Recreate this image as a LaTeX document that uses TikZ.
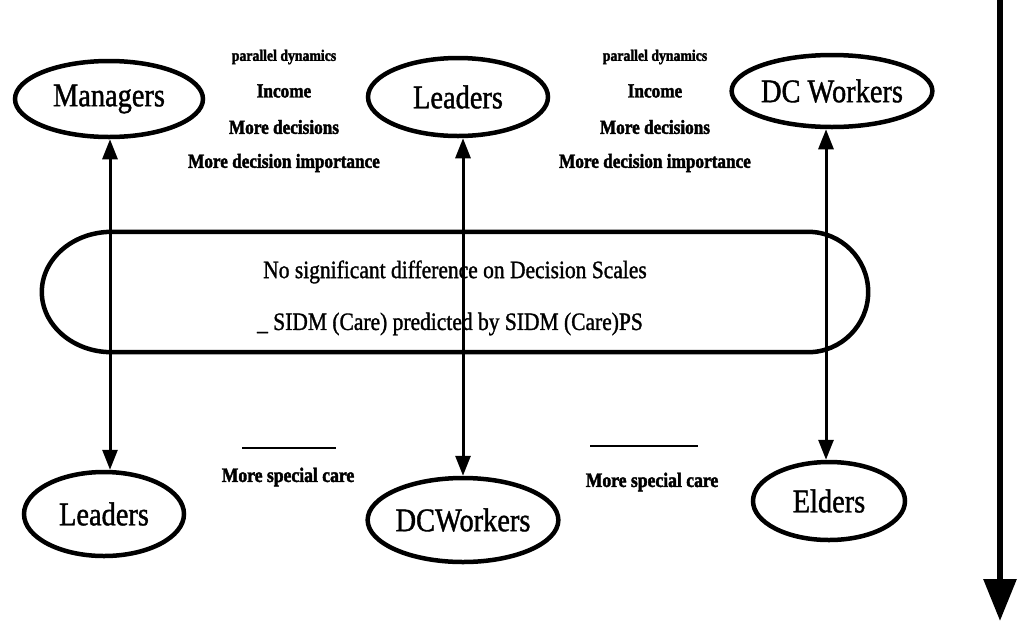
\documentclass[tikz,border=0pt]{standalone}
\usepackage{fontspec}
\setmainfont{Liberation Serif}[FakeStretch=0.86]
\newfontfamily\heavyfont{Liberation Serif}[FakeStretch=0.86,FakeBold=1.2]
\newfontfamily\notefont{Liberation Serif}[FakeStretch=0.86,BoldFeatures={FakeBold=2}]
\usetikzlibrary{shapes.geometric,arrows.meta}
\begin{document}
\begin{tikzpicture}[x=1pt,y=-1pt,
  group/.style={draw,line width=4.5pt,ellipse,inner sep=0pt,
    font=\heavyfont\fontsize{33}{35}\selectfont},
  note/.style={font=\notefont\bfseries\fontsize{20}{22}\selectfont,inner sep=0pt},
  headnote/.style={font=\notefont\bfseries\fontsize{16}{18}\selectfont,inner sep=0pt},
  caretxt/.style={font=\notefont\bfseries\fontsize{20.5}{22}\selectfont,inner sep=0pt},
  midtxt/.style={font=\heavyfont\fontsize{25}{27}\selectfont,inner sep=0pt},
  link/.style={line width=3pt,{Triangle[width=15pt,length=20pt]}-{Triangle[width=15pt,length=20pt]}},
  rule/.style={line width=2pt}]
\useasboundingbox (0,0) rectangle (1017,622);

% the three upper groups
\node[group,minimum width=188,minimum height=76] (m1) at (109,99) {Managers};
\node[group,minimum width=180,minimum height=78] (l1) at (458,97) {Leaders};
\node[group,minimum width=184,minimum height=72] (w1) at (832,91) {DC Workers};

% the three lower groups
\node[group,minimum width=160,minimum height=84] (l2) at (104,514) {Leaders};
\node[group,minimum width=166,minimum height=84] (w2) at (463,520) {DCWorkers};
\node[group,minimum width=152,minimum height=78] (e2) at (829,501) {Elders};

% central finding, a long band with elliptical ends
\node[minimum width=826,minimum height=120,inner sep=0pt] (band) at (455,292) {};
\draw[line width=4.5pt]
  ([xshift=70]band.north west) -- ([xshift=-60]band.north east)
  .. controls ([xshift=-27]band.north east) and ([yshift=33]band.east) .. (band.east)
  .. controls ([yshift=-33]band.east) and ([xshift=-27]band.south east) .. ([xshift=-60]band.south east)
  -- ([xshift=70]band.south west)
  .. controls ([xshift=31]band.south west) and ([yshift=-33]band.west) .. (band.west)
  .. controls ([yshift=33]band.west) and ([xshift=31]band.north west) .. ([xshift=70]band.north west)
  -- cycle;
\node[midtxt] (t1) at (455,272) {No significant difference on Decision Scales};
\node[midtxt] (t2) at (450,324) {\_ SIDM (Care) predicted by SIDM (Care)PS};

% comparisons between the levels
\draw[link] ([xshift=1]m1.south) -- ([xshift=1]m1.south |- l2.north);
\draw[link] ([xshift=5]l1.south) -- ([xshift=5]l1.south |- w2.north);
\draw[link] ([xshift=-6]w1.south) -- ([xshift=-6]w1.south |- e2.north);

% upper notes
\node[headnote] (p1) at (284,57) {parallel dynamics};
\node[note] (i1) at (284,91) {Income};
\node[note] (d1) at (284,127) {More decisions};
\node[note] (x1) at (284,163) {More decision importance};
\node[headnote] (p2) at (655,57) {parallel dynamics};
\node[note] (i2) at (655,91) {Income};
\node[note] (d2) at (655,127) {More decisions};
\node[note] (x2) at (655,163) {More decision importance};

% lower notes
\coordinate (r1a) at (242,448);
\coordinate (r1b) at (336,448);
\coordinate (r2a) at (590,446);
\coordinate (r2b) at (698,446);
\draw[rule] (r1a) -- (r1b);
\draw[rule] (r2a) -- (r2b);
\node[caretxt] (c1) at (288,477) {More special care};
\node[caretxt] (c2) at (652,482) {More special care};

% long downward arrow at the right edge
\coordinate (dtop) at (1000,0);
\coordinate (dbot) at (1000,621);
\draw[line width=6pt,-{Triangle[width=32pt,length=42pt]}] (dtop) -- (dbot);
\end{tikzpicture}
\end{document}
